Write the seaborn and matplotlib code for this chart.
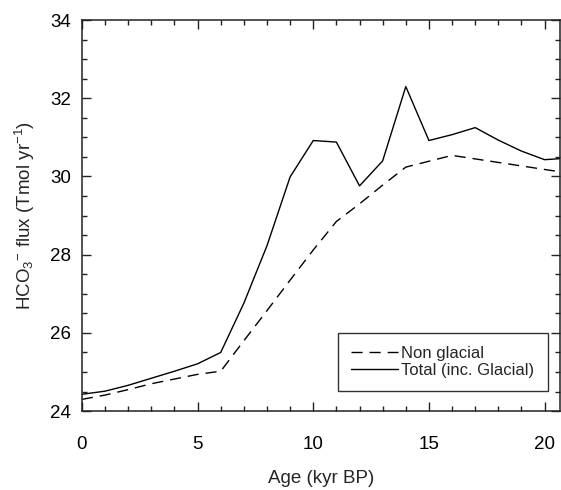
import matplotlib
matplotlib.use("Agg")
import matplotlib.pyplot as plt
from matplotlib.ticker import MultipleLocator
import pandas as pd
import seaborn as sns

# Age (kyr BP)
age = [0, 1, 2, 3, 4, 5, 6, 7, 8, 9, 10, 11, 12, 13, 14, 15, 16, 17, 18, 19, 20, 21]
# HCO3- flux (Tmol/yr)
non_glacial = [24.30, 24.41, 24.55, 24.70, 24.82, 24.94, 25.02, 25.80, 26.57, 27.35,
               28.12, 28.85, 29.30, 29.78, 30.24, 30.39, 30.54, 30.45, 30.36, 30.27,
               30.18, 30.09]
total = [24.43, 24.51, 24.66, 24.84, 25.02, 25.21, 25.50, 26.76, 28.23, 29.99,
         30.92, 30.88, 29.76, 30.40, 32.30, 30.92, 31.07, 31.25, 30.93, 30.65,
         30.43, 30.47]
series_names = ["Non glacial", "Total (inc. Glacial)"]

df = pd.DataFrame({
    "age": age * 2,
    "flux": non_glacial + total,
    "series": [series_names[0]] * len(age) + [series_names[1]] * len(age),
})

sns.set_style("ticks")
plt.rcParams["font.family"] = ["Liberation Sans", "DejaVu Sans"]
plt.rcParams["mathtext.default"] = "regular"

fig = plt.figure(figsize=(5.61, 4.90), dpi=100)
ax = fig.add_axes([0.146, 0.161, 0.852, 0.798])

sns.lineplot(data=df, x="age", y="flux", hue="series", style="series",
             palette=["black", "black"],
             dashes={series_names[0]: (8, 5), series_names[1]: ""},
             linewidth=1.0, ax=ax)

ax.set_xlim(0, 20.66)
ax.set_ylim(24, 34)
ax.xaxis.set_major_locator(MultipleLocator(5))
ax.xaxis.set_minor_locator(MultipleLocator(1))
ax.yaxis.set_major_locator(MultipleLocator(2))
ax.yaxis.set_minor_locator(MultipleLocator(0.5))
ax.tick_params(which="both", direction="in", top=True, right=True, colors="#222222",
               labelcolor="black", labelsize=13.5)
ax.tick_params(which="major", length=6.5, width=1.0)
ax.tick_params(which="minor", length=3.5, width=1.0)
ax.tick_params(axis="x", which="major", pad=18)
ax.tick_params(axis="y", which="major", pad=8)
for s in ax.spines.values():
    s.set_color("#222222")
    s.set_linewidth(1.1)

ax.set_xlabel("Age (kyr BP)", fontsize=13.5, labelpad=12)
ax.set_ylabel(r"HCO$_{3}$$^{-}$ flux (Tmol yr$^{-1}$)", fontsize=13.5, labelpad=9)

leg = ax.legend(loc="lower right", bbox_to_anchor=(0.975, 0.051), frameon=True,
                fancybox=False, fontsize=12, handlelength=2.8, borderpad=0.8,
                labelspacing=0.1, handletextpad=0.2, borderaxespad=0.0)
leg.get_frame().set_edgecolor("black")
leg.get_frame().set_linewidth(1.0)
leg.set_title(None)

fig.savefig("out.png", dpi=100)
